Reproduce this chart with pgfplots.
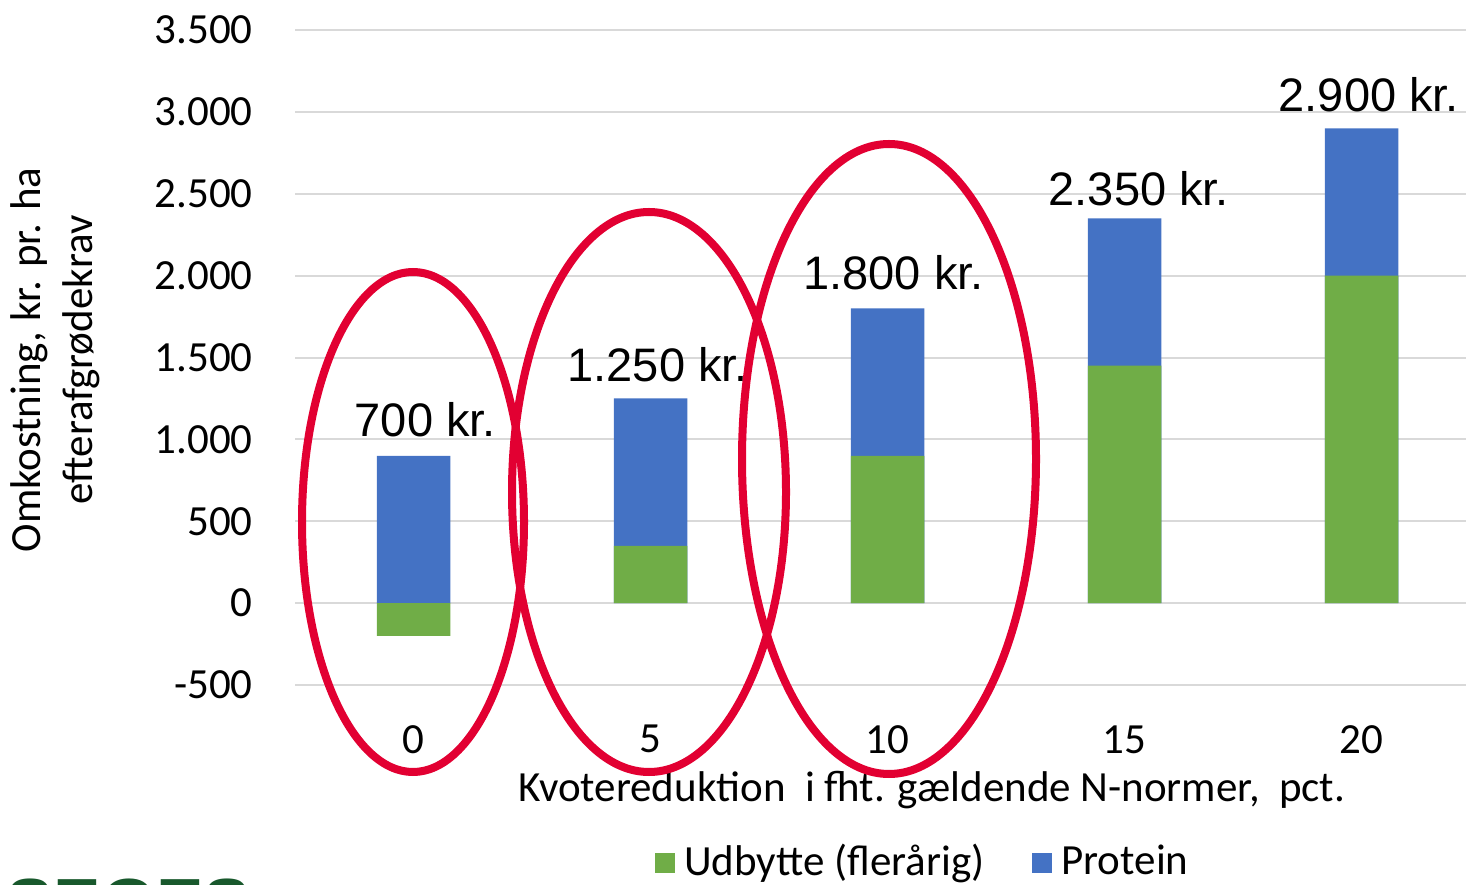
\documentclass[border=0pt]{standalone}
\usepackage{fontspec}
\setmainfont{Carlito}
\newfontfamily\arial{Liberation Sans}
\usepackage{pgfplots}
\pgfplotsset{compat=1.18}
\definecolor{udgreen}{RGB}{112,173,71}
\definecolor{protblue}{RGB}{68,114,196}
\definecolor{gridgray}{RGB}{217,217,217}
\definecolor{ringred}{RGB}{226,0,50}
\definecolor{segesgreen}{RGB}{24,88,44}

\begin{document}
\begin{tikzpicture}
\useasboundingbox (0,0) rectangle (733pt,442pt);
\fontsize{21.5}{26}\selectfont
\begin{axis}[
  at={(147.5pt,99.5pt)}, anchor=south west,
  scale only axis,
  width=585.5pt, height=327.5pt,
  xmin=-0.5, xmax=4.44,
  ymin=-500, ymax=3500,
  xtick={0,1,2,3,4},
  xticklabels={0,5,10,15,20},
  ytick={-500,0,500,1000,1500,2000,2500,3000,3500},
  yticklabels={-500,0,500,1.000,1.500,2.000,2.500,3.000,3.500},
  ymajorgrids,
  grid style={line width=1pt, gridgray},
  axis line style={draw=none},
  tick style={draw=none},
  tick label style={font=\fontsize{21.5}{26}\selectfont, inner sep=0pt},
  yticklabel style={anchor=east, xshift=-21pt},
  xticklabel style={anchor=north, yshift=-20pt},
  legend style={at={(0.537,-0.272)}, anchor=center, draw=none,
    font=\fontsize{21.5}{26}\selectfont, legend columns=2,
    /tikz/every even column/.append style={column sep=22pt}},
  legend image code/.code={\fill[#1] (0pt,-5pt) rectangle (10pt,5pt);
    \path (12.5pt,0pt);},
]
\addlegendimage{fill=udgreen, draw=none}
\addlegendentry{Udbytte (flerårig)}
\addlegendimage{fill=protblue, draw=none}
\addlegendentry{Protein}

% blue = total (udbytte + protein), green laid over it
\addplot[ybar, bar width=0.31, bar shift=0pt, fill=protblue, draw=none, forget plot]
  coordinates {(0,900)(1,1250)(2,1800)(3,2350)(4,2900)};
\addplot[ybar, bar width=0.31, bar shift=0pt, fill=udgreen, draw=none, forget plot]
  coordinates {(0,-200)(1,350)(2,900)(3,1450)(4,2000)};

\node[font=\arial\fontsize{23.5}{27}\selectfont] at (axis cs:0.05,1122) {700 kr.};
\node[font=\arial\fontsize{23.5}{27}\selectfont] at (axis cs:1.03,1453) {1.250 kr.};
\node[font=\arial\fontsize{23.5}{27}\selectfont] at (axis cs:2.025,2017) {1.800 kr.};
\node[font=\arial\fontsize{23.5}{27}\selectfont] at (axis cs:3.06,2532) {2.350 kr.};
\node[font=\arial\fontsize{23.5}{27}\selectfont] at (axis cs:4.03,3102) {2.900 kr.};
\end{axis}

% axis titles
\node at (466pt,47pt) {Kvotereduktion\ \ i fht. gældende\ N-normer,\ \ pct.};
\node[rotate=90, align=center] at (27.5pt,262pt)
  {Omkostning, kr. pr. ha\\efterafgrødekrav};

% red rings
\draw[ringred, line width=4pt] (206.5pt,181pt) ellipse [x radius=55.5pt, y radius=125pt];
\draw[ringred, line width=4pt] (324.5pt,196pt) ellipse [x radius=68.5pt, y radius=140pt];
\draw[ringred, line width=4pt] (444.5pt,212.5pt) ellipse [x radius=73.5pt, y radius=157.5pt];

% cut-off logo at the bottom edge
\node[anchor=base west, inner sep=0pt, text=segesgreen,
  font=\arial\bfseries\fontsize{35.5}{40}\selectfont] at (3pt,-22.4pt) {SEGES};
\end{tikzpicture}
\end{document}
